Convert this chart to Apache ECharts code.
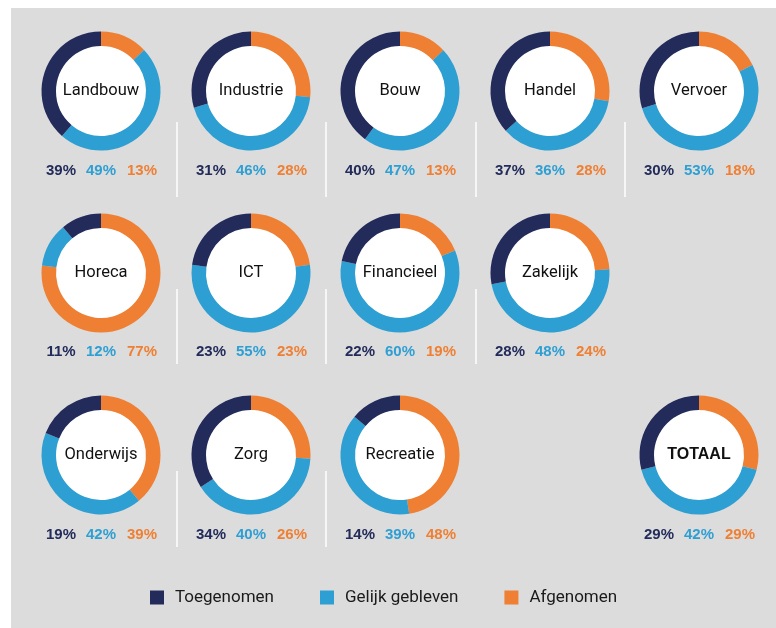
<!DOCTYPE html>
<html>
<head>
<meta charset="utf-8">
<script src="https://cdn.jsdelivr.net/npm/echarts@6/dist/echarts.min.js"></script>
<style>
html,body{margin:0;padding:0;background:#fff;}
#chart{width:776px;height:628px;}
</style>
</head>
<body>
<div id="chart"></div>
<script>
// data
var sectors = ['Landbouw','Industrie','Bouw','Handel','Vervoer','Horeca','ICT','Financieel','Zakelijk','Onderwijs','Zorg','Recreatie','TOTAAL'];
var toegenomen = [39,31,40,37,30,11,23,22,28,19,34,14,29];
var gelijk     = [49,46,47,36,53,12,55,60,48,42,40,39,42];
var afgenomen  = [13,28,13,28,18,77,23,19,24,39,26,48,29];
var legendNames = ['Toegenomen','Gelijk gebleven','Afgenomen'];

// layout
var colX = [101,251,400,550,699];
var rowY = [91,273,455];
var labelY = [171,352,535];
var cells = [[0,0],[1,0],[2,0],[3,0],[4,0],[0,1],[1,1],[2,1],[3,1],[0,2],[1,2],[2,2],[4,2]];
var sepX = [177,326,476,625];
var sepRows = [[122,197,4],[289,364,3],[471,547,2]];

var NAVY = '#222b5a', BLUE = '#2e9fd2', ORANGE = '#ef7f32';

var chart = echarts.init(document.getElementById('chart'));

var series = [];
var graphic = [{
	type:'rect', shape:{x:11,y:8,width:765,height:620}, style:{fill:'#dcdcdc'}, z:-10
}];

sepRows.forEach(function(r){
	for(var i=0;i<r[2];i++){
		graphic.push({type:'line', shape:{x1:sepX[i],y1:r[0],x2:sepX[i],y2:r[1]}, style:{stroke:'#ffffff',lineWidth:1.5}, z:-5});
	}
});

sectors.forEach(function(name,i){
	var cx = colX[cells[i][0]], cy = rowY[cells[i][1]], ly = labelY[cells[i][1]];
	series.push({
		type:'pie',
		name:name,
		center:[cx,cy],
		radius:[45,59.5],
		startAngle:90,
		clockwise:true,
		silent:true,
		label:{show:false},
		labelLine:{show:false},
		itemStyle:{borderWidth:0},
		data:[
			{name:'Afgenomen', value:afgenomen[i], itemStyle:{color:ORANGE}},
			{name:'Gelijk gebleven', value:gelijk[i], itemStyle:{color:BLUE}},
			{name:'Toegenomen', value:toegenomen[i], itemStyle:{color:NAVY}}
		]
	});
	graphic.push({type:'circle', shape:{cx:cx,cy:cy,r:45.5}, style:{fill:'#ffffff'}, z:-1});
	var isTotal = name === 'TOTAAL';
	graphic.push({
		type:'text', x:cx, y:cy, z:5,
		style:{
			text:name, fill:'#111', align:'center', verticalAlign:'middle',
			font: isTotal ? '900 16px "Liberation Sans", Arial, sans-serif' : '16.5px Roboto, sans-serif'
		}
	});
	var vals = [toegenomen[i], gelijk[i], afgenomen[i]];
	var cols = [NAVY, BLUE, ORANGE];
	var offs = [-40, 0, 41];
	for(var k=0;k<3;k++){
		graphic.push({
			type:'text', x:cx+offs[k], y:ly, z:5,
			style:{
				text:vals[k]+'%', fill:cols[k], align:'center', verticalAlign:'middle',
				font:'bold 15px "Liberation Sans", Arial, sans-serif'
			}
		});
	}
});

var option = {
	animation:false,
	backgroundColor:'#ffffff',
	legend:{
		data:legendNames,
		left:145,
		top:584,
		orient:'horizontal',
		icon:'rect',
		itemWidth:14,
		itemHeight:14,
		itemGap:46,
		selectedMode:false,
		textStyle:{
			color:'#1a1a1a',
			fontFamily:'Roboto, sans-serif',
			fontSize:17,
			padding:[0,0,0,6]
		}
	},
	graphic:graphic,
	series:series
};
chart.setOption(option);
</script>
</body>
</html>
